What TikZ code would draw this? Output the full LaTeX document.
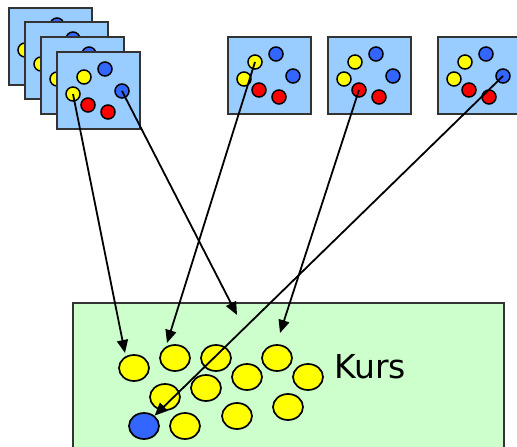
\documentclass[tikz,border=0pt]{standalone}
\usepackage{fontspec}
\usepackage{xcolor}
\usepackage{tikz}
\usetikzlibrary{shapes.geometric, arrows.meta, positioning, calc}
\newfontfamily\kursfont{DejaVu Sans}

\definecolor{frameblue}{HTML}{99CCFF}
\definecolor{dotblue}{HTML}{3366FF}
\definecolor{dotyellow}{HTML}{FFFF00}
\definecolor{dotred}{HTML}{FF0000}
\definecolor{kursgreen}{HTML}{CCFFCC}
\definecolor{edgegray}{HTML}{333333}

\tikzset{
  frm/.style={draw=edgegray, line width=2pt, fill=frameblue, anchor=north west,
    minimum width=83pt, minimum height=77pt, inner sep=0pt},
  dotnode/.style={circle, draw=black, line width=1.5pt, minimum size=14pt, inner sep=0pt},
  ydot/.style={dotnode, fill=dotyellow},
  bdot/.style={dotnode, fill=dotblue},
  rdot/.style={dotnode, fill=dotred},
  student/.style={ellipse, draw=black, line width=1.7pt, fill=dotyellow,
    minimum width=30pt, minimum height=26pt, inner sep=0pt},
}

% one frame with its six dots: name, x, y (top left)
\newcommand{\dotframe}[3]{%
  \node[frm] (#1) at (#2,#3) {};
  \node[ydot] (#1y1) at (#2+28,#3+26) {};
  \node[bdot] (#1b1) at (#2+49,#3+18) {};
  \node[ydot] (#1y2) at (#2+17,#3+43) {};
  \node[bdot] (#1b2) at (#2+66,#3+40) {};
  \node[rdot] (#1r1) at (#2+32,#3+54) {};
  \node[rdot] (#1r2) at (#2+52,#3+61) {};
}

\begin{document}
\begin{tikzpicture}[x=1pt, y=-1pt, >={Triangle[length=13pt,width=11pt]}]
  \useasboundingbox (0,0) rectangle (517,447);

  % stack of frames
  \dotframe{fa}{8}{7}
  \dotframe{fb}{24}{21}
  \dotframe{fc}{40}{36}
  \dotframe{fd}{56}{51}

  % single frames
  \dotframe{fe}{227}{36}
  \dotframe{ff}{327}{36}
  \dotframe{fg}{437}{36}

  % course
  \node[draw=edgegray, line width=1.6pt, fill=kursgreen, anchor=north west,
    minimum width=431pt, minimum height=170pt, inner sep=0pt] (kursbox) at (72,302) {};
  \node[student] (e1) at (134,368) {};
  \node[student] (e2) at (175,358) {};
  \node[student] (e3) at (216,358) {};
  \node[student] (e4) at (247,377) {};
  \node[student] (e5) at (277,358) {};
  \node[student] (e6) at (308,377) {};
  \node[student] (e7) at (206,388) {};
  \node[student] (e8) at (165,397) {};
  \node[student] (e9) at (288,407) {};
  \node[student] (e10) at (237,416) {};
  \node[student] (e11) at (185,426) {};
  \node[student, fill=dotblue] (e12) at (144,426) {};
  \node[anchor=base, font=\kursfont\fontsize{33}{36}\selectfont] (kurs) at (370,378) {Kurs};

  % arrow ends
  \coordinate (t1) at (125,353);
  \coordinate (t2) at (237,315);
  \coordinate (t3) at (167,343);
  \coordinate (t4) at (280,333);

  \draw[->, line width=1.8pt] (fdy2.center) -- (t1);
  \draw[->, line width=1.8pt] (fdb2.center) -- (t2);
  \draw[->, line width=1.8pt] (fey1.center) -- (t3);
  \draw[->, line width=1.8pt] (ffr1.center) -- (t4);
  \draw[->, line width=1.8pt] (fgb2.center) -- (e12);
\end{tikzpicture}
\end{document}
